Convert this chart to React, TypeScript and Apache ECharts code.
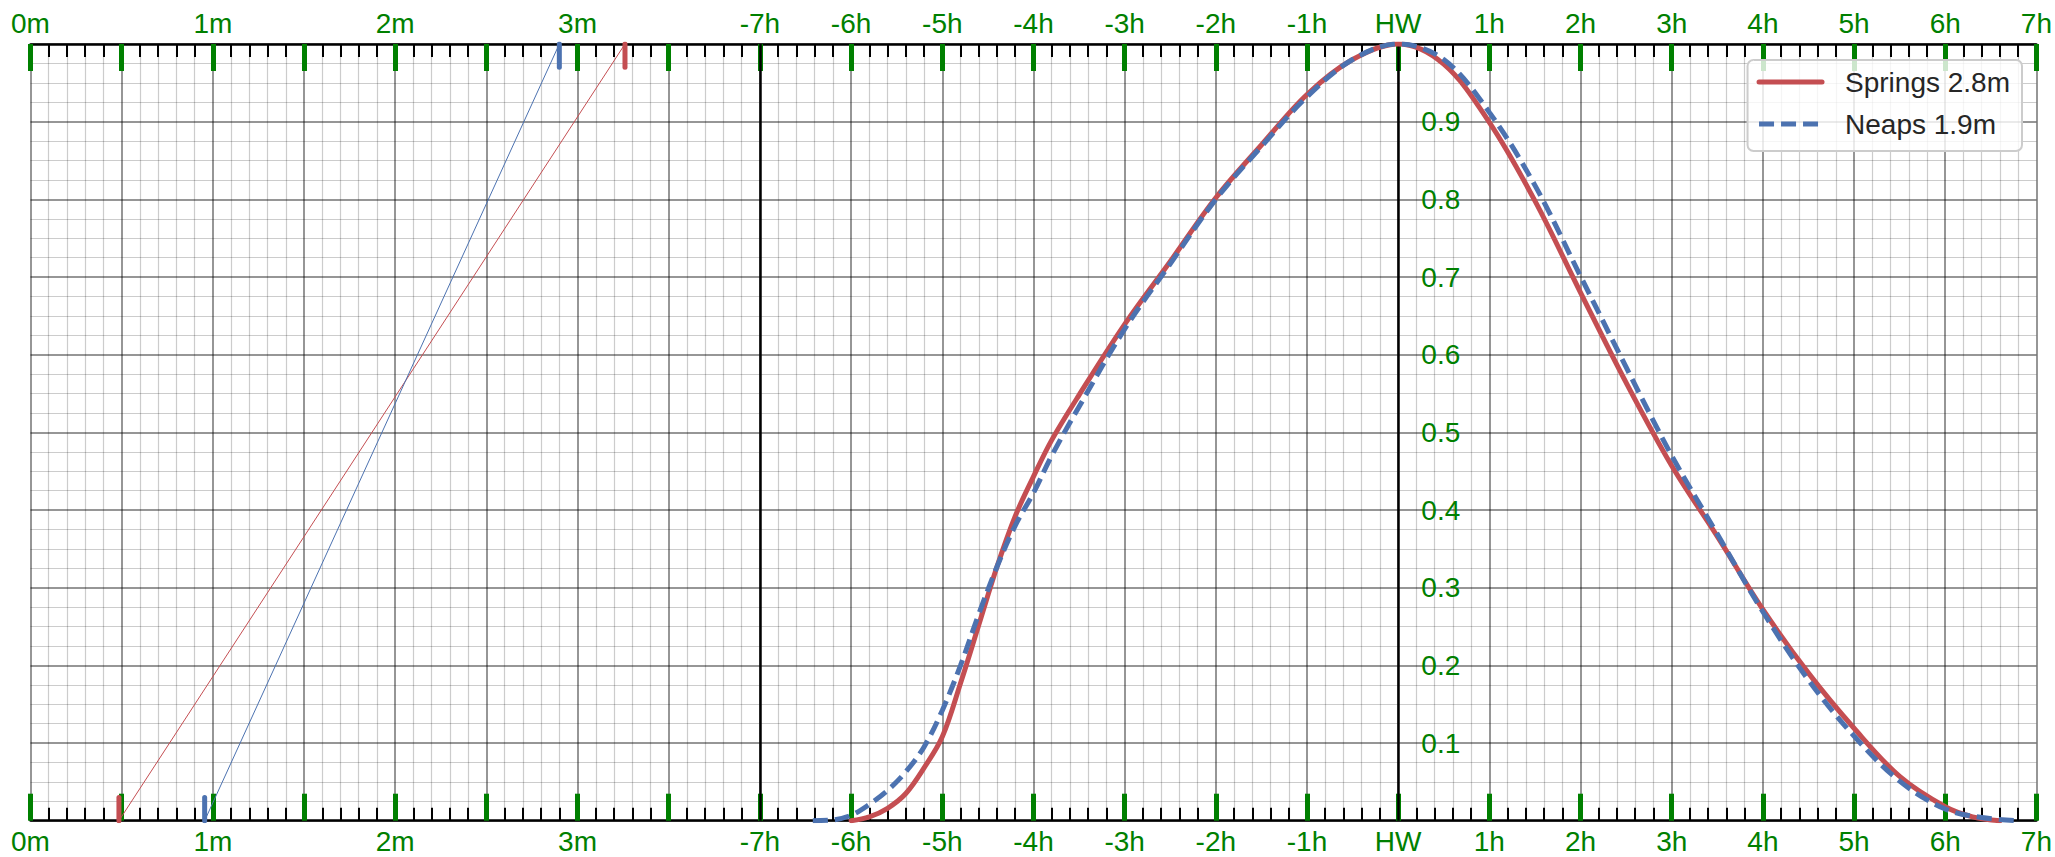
import React, { useEffect, useRef } from "react";
import * as echarts from "echarts";

// x-axis units: left part 1 unit = 0.5 m (0..8), right part 1 unit = 1 h (8..22, HW at 15)
const xTickUnits = [0, 1, 2, 3, 4, 5, 6, 7, 8, 9, 10, 11, 12, 13, 14, 15, 16, 17, 18, 19, 20, 21, 22];
const metreLabels = ["0m", "1m", "2m", "3m"];
const hourLabels = ["-7h", "-6h", "-5h", "-4h", "-3h", "-2h", "-1h", "HW", "1h", "2h", "3h", "4h", "5h", "6h", "7h"];
const yLabels = ["0.1", "0.2", "0.3", "0.4", "0.5", "0.6", "0.7", "0.8", "0.9"];

const springsHours = [-6, -5.8, -5.6, -5.4, -5.2, -5, -4.8, -4.6, -4.4, -4.2, -4, -3.8, -3.5, -3, -2.5, -2, -1.5, -1, -0.5, 0, 0.5, 1, 1.5, 2, 2.5, 3, 3.5, 4, 4.5, 5, 5.5, 6, 6.3, 6.6];
const springs = [0, 0.005, 0.016, 0.035, 0.068, 0.108, 0.177, 0.252, 0.327, 0.392, 0.443, 0.49, 0.548, 0.639, 0.72, 0.802, 0.87, 0.935, 0.98, 1.0, 0.974, 0.899, 0.798, 0.68, 0.564, 0.457, 0.366, 0.272, 0.19, 0.119, 0.057, 0.018, 0.005, 0];

const neapsHours = [-6.42, -6.2, -6, -5.8, -5.6, -5.4, -5.2, -5, -4.8, -4.6, -4.4, -4.2, -4, -3.8, -3.5, -3, -2.5, -2, -1.5, -1, -0.5, 0, 0.5, 1, 1.5, 2, 2.5, 3, 3.5, 4, 4.5, 5, 5.5, 6, 6.4, 6.8];
const neaps = [0, 0.001, 0.007, 0.021, 0.039, 0.063, 0.095, 0.142, 0.2, 0.266, 0.327, 0.38, 0.422, 0.47, 0.533, 0.633, 0.717, 0.8, 0.868, 0.932, 0.98, 1.0, 0.98, 0.912, 0.818, 0.701, 0.584, 0.47, 0.369, 0.269, 0.181, 0.109, 0.051, 0.015, 0.004, 0];

// low water / high water heights (m) for the range lines
const springsLwHw = [0.485, 3.26];
const neapsLwHw = [0.955, 2.9];
const markerLen = 0.03;

const RED = "#C44E52";
const BLUE = "#4C72B0";
const GREEN = "#008000";
const FONT = "'Liberation Sans', Arial, sans-serif";

const W = 2055;
const H = 857;
const G_LEFT = 30.5;
const G_RIGHT = 18.3;
const G_TOP = 44;
const G_BOTTOM = 36.3;

function xLabel(v: number): string {
  const u = Math.round(v);
  if (u < 8) return u % 2 === 0 ? metreLabels[u / 2] ?? "" : "";
  return hourLabels[u - 8] ?? "";
}

function makeXAxis(position: "top" | "bottom", withGrid: boolean) {
  return {
    type: "value",
    position,
    min: xTickUnits[0],
    max: xTickUnits[xTickUnits.length - 1],
    interval: 1,
    axisLine: { show: true, lineStyle: { color: "#000", width: 2.5 } },
    axisTick: { show: true, inside: true, length: 27, lineStyle: { color: GREEN, width: 5 } },
    minorTick: { show: true, splitNumber: 5, length: 13, lineStyle: { color: "#000", width: 2 } },
    axisLabel: {
      show: true,
      margin: 7,
      color: GREEN,
      fontSize: 28,
      fontFamily: FONT,
      formatter: (v: number) => xLabel(v),
      showMinLabel: true,
      showMaxLabel: true,
    },
    splitLine: { show: withGrid, lineStyle: { color: "rgba(0,0,0,0.55)", width: 1.5 } },
    minorSplitLine: { show: withGrid, lineStyle: { color: "rgba(0,0,0,0.2)", width: 1.2 } },
  };
}

export default function App() {
  const ref = useRef<HTMLDivElement>(null);
  useEffect(() => {
    if (!ref.current) return;
    const chart = echarts.init(ref.current, undefined, { renderer: "svg" });
    const gridW = W - G_LEFT - G_RIGHT;
    const hwOffset = -(gridW * 15) / 22;

    const seg = (x: number, y0: number, y1: number) => [[x, y0], [x, y1]];

    const option: any = {
      animation: false,
      backgroundColor: "#fff",
      grid: { left: G_LEFT, right: G_RIGHT, top: G_TOP, bottom: G_BOTTOM },
      legend: {
        data: ["Springs 2.8m", "Neaps 1.9m"],
        orient: "vertical",
        right: 33,
        top: 60,
        itemWidth: 63,
        itemHeight: 14,
        itemGap: 14,
        padding: [8, 12, 13, 9],
        backgroundColor: "rgba(255,255,255,0.8)",
        borderColor: "#cccccc",
        borderWidth: 2,
        borderRadius: 6,
        lineStyle: { width: 5 },
        itemStyle: { opacity: 0, borderWidth: 0 },
        textStyle: {
          color: "#262626",
          fontSize: 28,
          fontFamily: FONT,
          lineHeight: 28,
          padding: [0, 0, 0, 18],
        },
      },
      xAxis: [makeXAxis("bottom", true), makeXAxis("top", false)],
      yAxis: {
        type: "value",
        position: "left",
        offset: hwOffset,
        min: 0,
        max: 1,
        interval: 0.1,
        axisLine: { show: false },
        axisTick: { show: false },
        minorTick: { show: false, splitNumber: 4 },
        axisLabel: {
          inside: true,
          margin: 23,
          color: GREEN,
          fontSize: 28,
          fontFamily: FONT,
          formatter: (v: number) => {
            const s = v.toFixed(1);
            return yLabels.includes(s) ? s : "";
          },
        },
        splitLine: { show: true, lineStyle: { color: "rgba(0,0,0,0.55)", width: 1.5 } },
        minorSplitLine: { show: true, lineStyle: { color: "rgba(0,0,0,0.2)", width: 1.2 } },
      },
      series: [
        {
          name: "springsRange",
          type: "line",
          data: [[2 * springsLwHw[0], 0], [2 * springsLwHw[1], 1]],
          symbol: "none",
          lineStyle: { color: RED, width: 1 },
          silent: true,
          z: 3,
          markLine: {
            silent: true,
            symbol: ["none", "none"],
            label: { show: false },
            lineStyle: { color: "#000", width: 2.5, type: "solid" },
            data: [{ xAxis: 8 }, { xAxis: 15 }],
          },
        },
        {
          name: "neapsRange",
          type: "line",
          data: [[2 * neapsLwHw[0], 0], [2 * neapsLwHw[1], 1]],
          symbol: "none",
          lineStyle: { color: BLUE, width: 1 },
          silent: true,
          z: 3,
        },
        {
          name: "springsLwMark",
          type: "line",
          data: seg(2 * springsLwHw[0], 0, markerLen),
          symbol: "none",
          lineStyle: { color: RED, width: 5, cap: "round" },
          z: 4,
        },
        {
          name: "springsHwMark",
          type: "line",
          data: seg(2 * springsLwHw[1], 1, 1 - markerLen),
          symbol: "none",
          lineStyle: { color: RED, width: 5, cap: "round" },
          z: 4,
        },
        {
          name: "neapsLwMark",
          type: "line",
          data: seg(2 * neapsLwHw[0], 0, markerLen),
          symbol: "none",
          lineStyle: { color: BLUE, width: 5, cap: "round" },
          z: 4,
        },
        {
          name: "neapsHwMark",
          type: "line",
          data: seg(2 * neapsLwHw[1], 1, 1 - markerLen),
          symbol: "none",
          lineStyle: { color: BLUE, width: 5, cap: "round" },
          z: 4,
        },
        {
          name: "Springs 2.8m",
          type: "line",
          data: springsHours.map((h, i) => [h + 15, springs[i]]),
          symbol: "none",
          smooth: 0.35,
          color: RED,
          lineStyle: { color: RED, width: 5, cap: "round" },
          z: 5,
        },
        {
          name: "Neaps 1.9m",
          type: "line",
          data: neapsHours.map((h, i) => [h + 15, neaps[i]]),
          symbol: "none",
          smooth: 0.35,
          color: BLUE,
          lineStyle: { color: BLUE, width: 5, type: [15, 7] },
          z: 5,
        },
      ],
    };
    chart.setOption(option);
    return () => chart.dispose();
  }, []);
  return (
    <div
      ref={ref}
      style={{ position: "fixed", left: 0, top: 0, width: W + "px", height: H + "px" }}
    />
  );
}
